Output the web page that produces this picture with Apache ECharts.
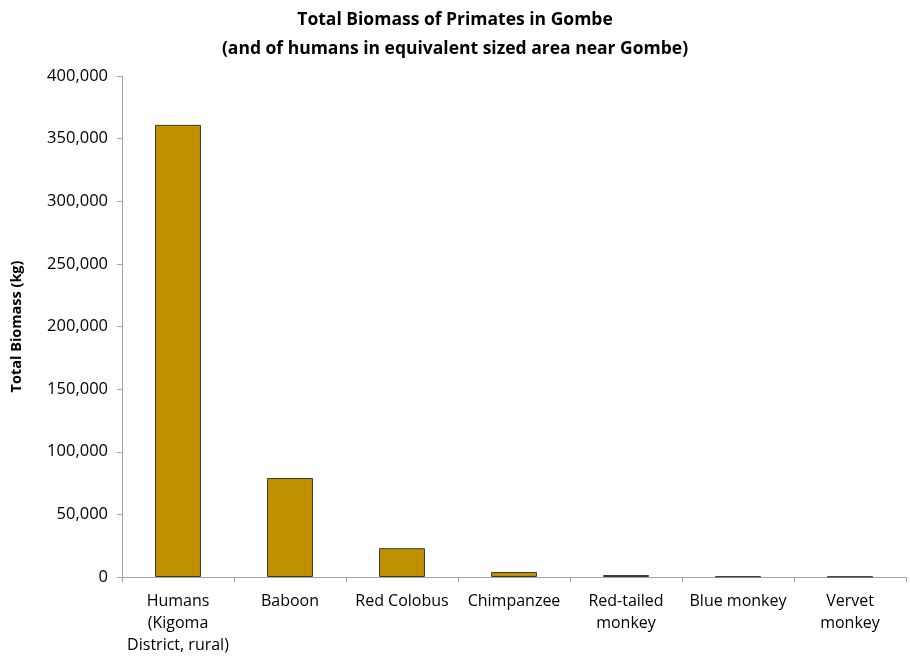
<!DOCTYPE html>
<html>
<head>
<meta charset="utf-8">
<script src="https://cdn.jsdelivr.net/npm/echarts@6/dist/echarts.min.js"></script>
<style>
  html, body { margin: 0; padding: 0; background: #fff; }
  #chart { width: 910px; height: 659px; }
</style>
</head>
<body>
<div id="chart"></div>
<script>
const categories = [
  'Humans\n(Kigoma\nDistrict, rural)',
  'Baboon',
  'Red Colobus',
  'Chimpanzee',
  'Red-tailed\nmonkey',
  'Blue monkey',
  'Vervet\nmonkey'
]
const biomass = [361000, 79000, 23000, 4000, 1600, 500, 300]
const yTicks = [0, 400000, 50000] // min, max, interval

const chart = echarts.init(document.getElementById('chart'))
const font = 'Open Sans, Liberation Sans, sans-serif'

chart.setOption({
  backgroundColor: '#fff',
  animation: false,
  title: {
    text: 'Total Biomass of Primates in Gombe\n(and of humans in equivalent sized area near Gombe)',
    left: 'center',
    top: 1,
    textStyle: {
      fontFamily: font,
      fontSize: 17.5,
      fontWeight: 'bold',
      color: '#000',
      lineHeight: 29
    }
  },
  grid: { left: 122, right: 4, top: 76, bottom: 82, outerBoundsMode: 'none', containLabel: false },
  xAxis: {
    type: 'category',
    data: categories,
    axisLine: { lineStyle: { color: '#a6a6a6', width: 1 } },
    axisTick: { show: true, length: 5, lineStyle: { color: '#a6a6a6' } },
    axisLabel: {
      interval: 0,
      margin: 13,
      fontFamily: font,
      fontSize: 16,
      color: '#000',
      lineHeight: 22
    }
  },
  yAxis: {
    type: 'value',
    min: yTicks[0],
    max: yTicks[1],
    interval: yTicks[2],
    name: 'Total Biomass (kg)',
    nameLocation: 'middle',
    nameRotate: 90,
    nameGap: 98,
    nameTextStyle: { fontFamily: font, fontSize: 14.5, fontWeight: 'bold', color: '#000' },
    axisLine: { show: true, lineStyle: { color: '#a6a6a6' } },
    axisTick: { show: true, length: 5, lineStyle: { color: '#a6a6a6' } },
    splitLine: { show: false },
    axisLabel: {
      margin: 14,
      fontFamily: font,
      fontSize: 16.5,
      color: '#000',
      formatter: v => v.toLocaleString('en-US')
    }
  },
  series: [{
    type: 'bar',
    data: biomass,
    barWidth: '41%',
    itemStyle: { color: '#bf9000', borderColor: '#3a3a3a', borderWidth: 1 }
  }]
})
</script>
</body>
</html>
